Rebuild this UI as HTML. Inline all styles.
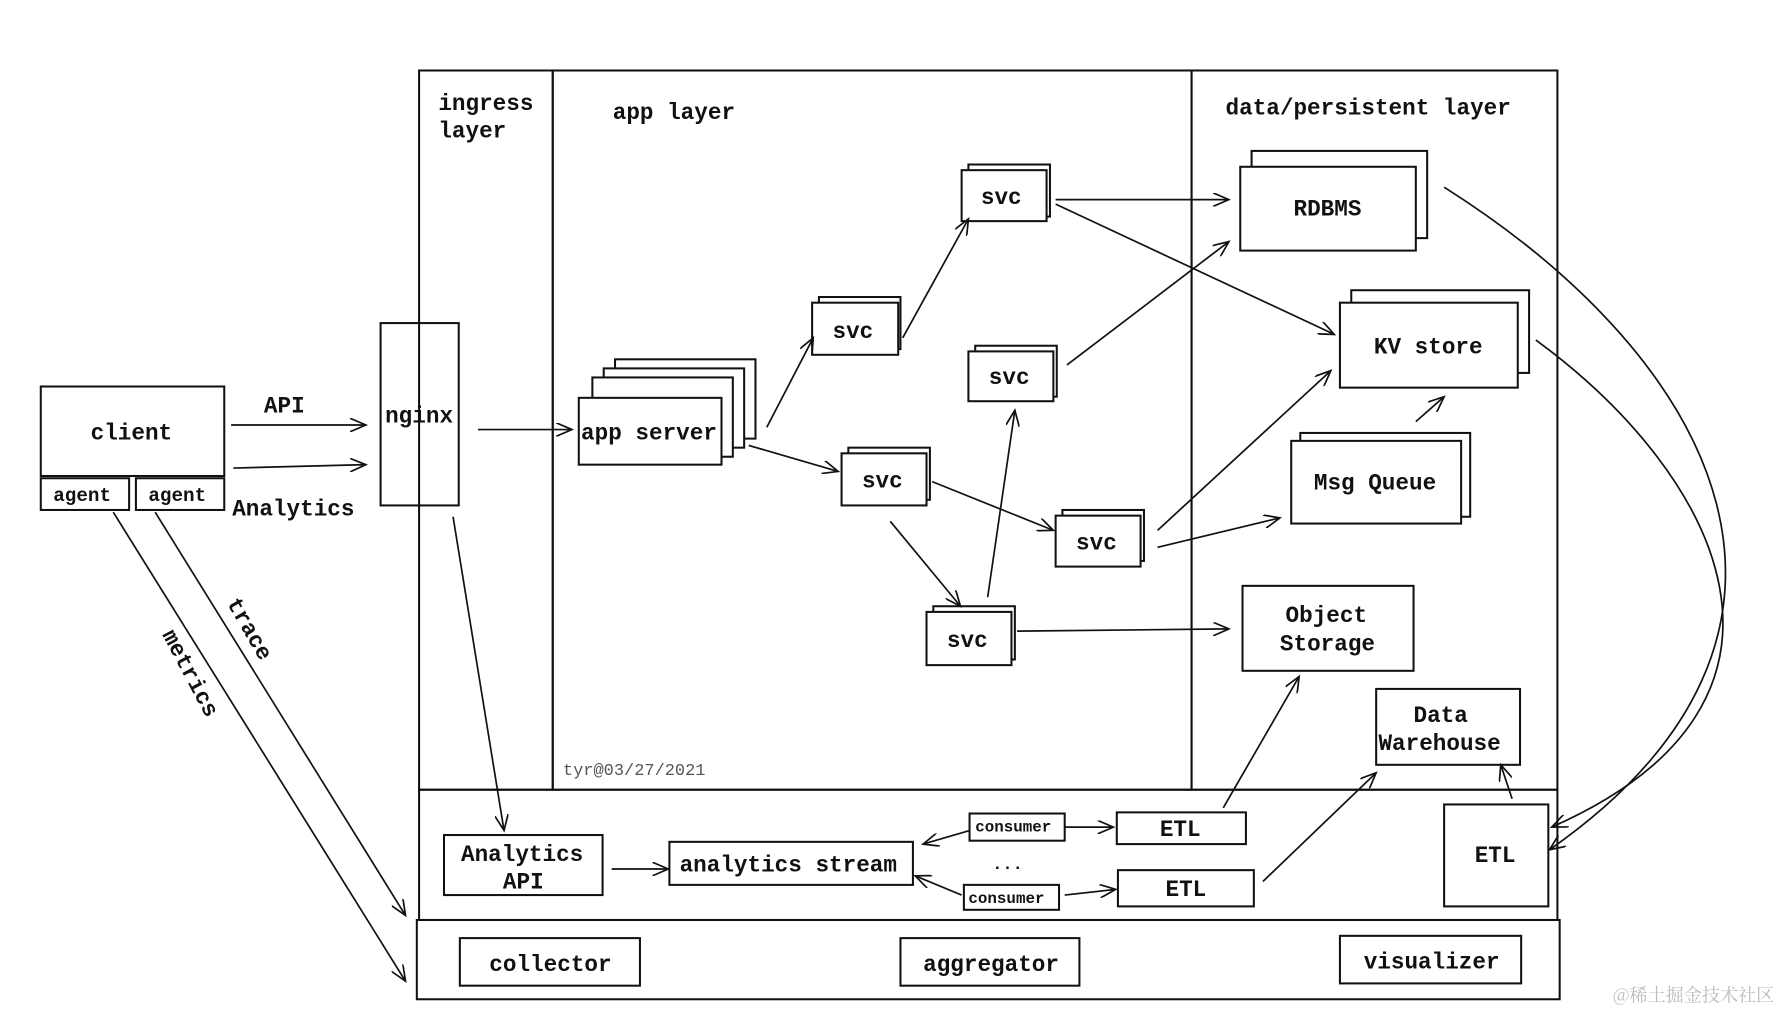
<!DOCTYPE html>
<html><head><meta charset="utf-8"><style>
html,body{margin:0;padding:0;background:#fff;}
svg{display:block}
text{font-family:"Liberation Mono","DejaVu Sans Mono",monospace;font-size:20px;fill:#111;font-weight:bold}
</style></head><body>
<svg width="1776" height="1012" viewBox="0 0 1568 893" xmlns="http://www.w3.org/2000/svg">
<defs>
<marker id="a" markerWidth="16" markerHeight="12" refX="14" refY="6" orient="auto" markerUnits="userSpaceOnUse">
<polyline points="0,0 14,6 0,12" fill="none" stroke="#111" stroke-width="1.5"/>
</marker>
</defs>
<rect width="1568" height="893" fill="#fff"/>
<g fill="none" stroke="#111" stroke-width="1.8">
<rect x="370" y="62" width="118" height="635"/>
<rect x="488" y="62" width="564" height="635"/>
<rect x="1052" y="62" width="323" height="635"/>
<rect x="370" y="697" width="1005" height="115"/>
<rect x="368" y="812" width="1009" height="70"/>
<rect x="36" y="341" width="162" height="79"/>
<rect x="36" y="422" width="78" height="28"/>
<rect x="120" y="422" width="78" height="28"/>
<rect x="336" y="285" width="69" height="161"/>
<rect x="543" y="317" width="124" height="70" fill="#fff"/>
<rect x="533" y="325" width="124" height="70" fill="#fff"/>
<rect x="523" y="333" width="124" height="70" fill="#fff"/>
<rect x="511" y="351" width="126" height="59" fill="#fff"/>
<rect x="723" y="262" width="72" height="46" fill="#fff"/><rect x="717" y="267" width="76" height="46" fill="#fff"/>
<rect x="855" y="145" width="72" height="46" fill="#fff"/><rect x="849" y="150" width="75" height="45" fill="#fff"/>
<rect x="749" y="395" width="72" height="46" fill="#fff"/><rect x="743" y="400" width="75" height="46" fill="#fff"/>
<rect x="861" y="305" width="72" height="45" fill="#fff"/><rect x="855" y="310" width="75" height="44" fill="#fff"/>
<rect x="938" y="450" width="72" height="45" fill="#fff"/><rect x="932" y="455" width="75" height="45" fill="#fff"/>
<rect x="824" y="535" width="72" height="47" fill="#fff"/><rect x="818" y="540" width="75" height="47" fill="#fff"/>
<rect x="1105" y="133" width="155" height="77" fill="#fff"/><rect x="1095" y="147" width="155" height="74" fill="#fff"/>
<rect x="1193" y="256" width="157" height="73" fill="#fff"/><rect x="1183" y="267" width="157" height="75" fill="#fff"/>
<rect x="1148" y="382" width="150" height="74" fill="#fff"/><rect x="1140" y="389" width="150" height="73" fill="#fff"/>
<rect x="1097" y="517" width="151" height="75"/>
<rect x="1215" y="608" width="127" height="67"/>
<rect x="392" y="737" width="140" height="53"/>
<rect x="591" y="743" width="215" height="38"/>
<rect x="856" y="718" width="84" height="24"/>
<rect x="851" y="781" width="84" height="22"/>
<rect x="986" y="717" width="114" height="28"/>
<rect x="987" y="768" width="120" height="32"/>
<rect x="1275" y="710" width="92" height="90"/>
<rect x="406" y="828" width="159" height="42"/>
<rect x="795" y="828" width="158" height="42"/>
<rect x="1183" y="826" width="160" height="42"/>
</g>
<g fill="none" stroke="#111" stroke-width="1.5" marker-end="url(#a)">
<line x1="204" y1="375" x2="323" y2="375"/>
<line x1="206" y1="413" x2="323" y2="410"/>
<line x1="422" y1="379" x2="505" y2="379"/>
<line x1="677" y1="377" x2="718" y2="298"/>
<line x1="797" y1="298" x2="855" y2="193"/>
<line x1="661" y1="393" x2="740" y2="416"/>
<line x1="823" y1="425" x2="930" y2="468"/>
<line x1="786" y1="460" x2="848" y2="535"/>
<line x1="872" y1="527" x2="896" y2="362"/>
<line x1="932" y1="176" x2="1085" y2="176"/>
<line x1="932" y1="180" x2="1178" y2="295"/>
<line x1="942" y1="322" x2="1085" y2="213"/>
<line x1="1022" y1="468" x2="1175" y2="327"/>
<line x1="1022" y1="483" x2="1130" y2="457"/>
<line x1="898" y1="557" x2="1085" y2="555"/>
<line x1="1250" y1="372" x2="1275" y2="350"/>
<path d="M1275,165 C1520,320 1640,560 1368,750"/>
<path d="M1356,300 C1520,420 1620,620 1370,730"/>
<line x1="400" y1="456" x2="445" y2="733"/>
<line x1="540" y1="767" x2="590" y2="767"/>
<line x1="856" y1="733" x2="815" y2="745"/>
<line x1="849" y1="790" x2="808" y2="773"/>
<line x1="940" y1="730" x2="983" y2="730"/>
<line x1="940" y1="790" x2="985" y2="785"/>
<line x1="1080" y1="713" x2="1147" y2="597"/>
<line x1="1115" y1="778" x2="1215" y2="682"/>
<line x1="1335" y1="705" x2="1325" y2="675"/>
<line x1="100" y1="452" x2="358" y2="866"/>
<line x1="137" y1="452" x2="358" y2="808"/>
</g>
<text x="387" y="97">ingress</text>
<text x="387" y="121">layer</text>
<text x="541" y="105">app layer</text>
<text x="1082" y="101">data/persistent layer</text>
<text x="80" y="388">client</text>
<text x="47" y="442" style="font-size:17px">agent</text>
<text x="131" y="442" style="font-size:17px">agent</text>
<text x="233" y="364">API</text>
<text x="205" y="455">Analytics</text>
<text x="340" y="373">nginx</text>
<text x="513" y="388">app server</text>
<text x="735" y="298">svc</text>
<text x="866" y="180">svc</text>
<text x="761" y="430">svc</text>
<text x="873" y="339">svc</text>
<text x="950" y="485">svc</text>
<text x="836" y="571">svc</text>
<text x="1142" y="190">RDBMS</text>
<text x="1213" y="312">KV store</text>
<text x="1160" y="432">Msg Queue</text>
<text x="1135" y="549">Object</text>
<text x="1130" y="574">Storage</text>
<text x="1248" y="637">Data</text>
<text x="1217" y="662">Warehouse</text>
<text x="497" y="684" style="font-size:15px;fill:#555;font-weight:normal">tyr@03/27/2021</text>
<text x="861" y="734" style="font-size:14px">consumer</text>
<text x="855" y="797" style="font-size:14px">consumer</text>
<text x="876" y="767" style="font-size:15px">...</text>
<text x="407" y="760">Analytics</text>
<text x="444" y="784">API</text>
<text x="600" y="769">analytics stream</text>
<text x="1024" y="738">ETL</text>
<text x="1029" y="791">ETL</text>
<text x="1302" y="761">ETL</text>
<text x="432" y="857">collector</text>
<text x="815" y="857">aggregator</text>
<text x="1204" y="855">visualizer</text>
<text transform="translate(200,532) rotate(60)">trace</text>
<text transform="translate(143,560) rotate(62)">metrics</text>
<text x="1424" y="884" style="font-size:16px;fill:#bbb;font-weight:normal;font-family:'Noto Serif CJK SC','Noto Sans CJK SC',serif">@稀土掘金技术社区</text>
</svg>
</body></html>
